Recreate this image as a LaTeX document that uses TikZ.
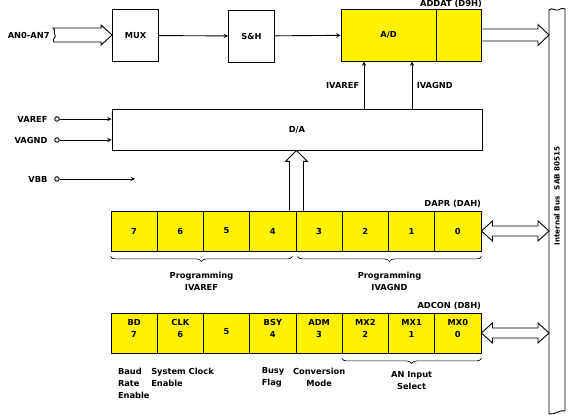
\documentclass[tikz,border=0pt]{standalone}
\usepackage{fontspec}
\setmainfont{DejaVu Sans}
\usetikzlibrary{positioning,calc,decorations.pathreplacing}

% hollow bus arrow pointing right, tip at #2
\newcommand{\busarrow}[2]{%
  \draw[hollow] let \p1=(#1), \p2=(#2) in
    (\x1,\y1+6pt) -- (\x2-11pt,\y1+6pt) -- (\x2-11pt,\y1+10.5pt) -- (\x2,\y1)
    -- (\x2-11pt,\y1-10.5pt) -- (\x2-11pt,\y1-6pt) -- (\x1,\y1-6pt);}
% hollow bus arrow with two heads
\newcommand{\dbusarrow}[2]{%
  \draw[hollow] let \p1=(#1), \p2=(#2) in
    (\x1,\y1) -- (\x1+11pt,\y1+10pt) -- (\x1+11pt,\y1+5pt) -- (\x2-11pt,\y1+5pt)
    -- (\x2-11pt,\y1+10pt) -- (\x2,\y1) -- (\x2-11pt,\y1-10pt) -- (\x2-11pt,\y1-5pt)
    -- (\x1+11pt,\y1-5pt) -- (\x1+11pt,\y1-10pt) -- cycle;}

\begin{document}
\begin{tikzpicture}[x=1pt,y=-1pt,line width=0.9pt,font=\fontsize{8.3}{12}\selectfont\bfseries,
  blk/.style={draw, minimum width=46pt, minimum height=52pt, inner sep=0pt},
  cell/.style={draw, fill=yellow, minimum width=46.25pt, minimum height=40pt, inner sep=0pt, align=center},
  pin/.style={draw, circle, inner sep=1.6pt},
  txt/.style={inner sep=0pt, align=left},
  brc/.style={decorate, decoration={brace, mirror, amplitude=5pt}, line width=0.6pt},
  hollow/.style={draw, line join=miter}]
\useasboundingbox (0,0) rectangle (576,419);

% internal bus
\coordinate (bus) at (549,210);
\draw (549,10) .. controls (552,7) and (555,11) .. (558,10) .. controls (561,9) and (563,7) .. (565,9)
  -- (565,411) .. controls (561,409) and (555,415) .. (549,414) -- cycle;
\node[rotate=90, font=\fontsize{7.2}{9}\selectfont\bfseries] at (557,196) {Internal Bus\hspace{6pt}SAB 80515};

% conversion path
\node[txt, anchor=east] (an) at (50,35) {AN0-AN7};
\node[blk] (mux) at (135.5,35.5) {MUX};
\node[blk] (sh) at (251.5,36) {S\&H};
\node[cell, minimum width=95pt, minimum height=52pt] (adc) at (388.5,35) {A/D};
\node[cell, minimum width=45pt, minimum height=52pt, anchor=west] (addat) at (adc.east) {};
\node[txt, anchor=south east] at ([yshift=1pt]addat.north east) {ADDAT (D9H)};

\draw[hollow] let \p1=(an.east), \p2=(mux.west) in
  (\x1+3pt,\y1+7pt) -- (\x2-11pt,\y1+7pt) -- (\x2-11pt,\y1+10pt) -- (\x2,\y1)
  -- (\x2-11pt,\y1-10pt) -- (\x2-11pt,\y1-7pt) -- (\x1+4pt,\y1-7pt)
  .. controls (\x1+1pt,\y1-4pt) and (\x1+7pt,\y1-2pt) .. (\x1+5pt,\y1)
  .. controls (\x1+3pt,\y1+2pt) and (\x1+6pt,\y1+5pt) .. cycle;
\draw[-stealth] (mux) -- (sh);
\draw[-stealth] (sh) -- (adc);
\busarrow{addat.east}{bus |- addat.east};

% D/A converter
\node[draw, minimum width=370pt, minimum height=41pt] (da) at (297,129.5) {D/A};
\coordinate (iref) at ([xshift=-24.5pt]adc.south);
\coordinate (ignd) at ([xshift=23.5pt]adc.south);
\draw[-stealth] (da.north -| iref) -- (iref) node[pos=0.5, left=1pt] {IVAREF};
\draw[-stealth] (da.north -| ignd) -- (ignd) node[pos=0.5, right=1pt] {IVAGND};

\node[pin] (varef) at (57,119) {};
\node[pin] (vagnd) at (57,140) {};
\node[pin] (vbb) at (57,179) {};
\node[left=3pt of varef] {VAREF};
\node[left=3pt of vagnd] {VAGND};
\node[left=3pt of vbb] {VBB};
\coordinate (vbbend) at (135,179);
\draw[-stealth] (varef) -- (varef -| da.west);
\draw[-stealth] (vagnd) -- (vagnd -| da.west);
\draw[-stealth] (vbb) -- (vbbend);

% DAPR register
\foreach \b [count=\i from 0] in {7,6,...,0}
  \node[cell] (dapr\b) at (134.125+46.25*\i,231) {\b};
\node[txt, anchor=south east] at ([yshift=3pt]dapr0.north east) {DAPR (DAH)};
\dbusarrow{dapr0.east}{bus |- dapr0.east};
\draw[hollow] let \p1=(dapr4.north east), \p2=(da.south -| dapr4.north east) in
  (\x1-7pt,\y1) -- (\x1-7pt,\y2-11pt) -- (\x1-11pt,\y2-11pt) -- (\x2,\y2)
  -- (\x1+11pt,\y2-11pt) -- (\x1+7pt,\y2-11pt) -- (\x1+7pt,\y1);
\draw[brc] ([yshift=-5pt]dapr7.south west) -- ([xshift=-4pt,yshift=-5pt]dapr4.south east)
  node[midway, below=12pt, align=center] {Programming\\IVAREF};
\draw[brc] ([xshift=2pt,yshift=-5pt]dapr3.south west) -- ([yshift=-5pt]dapr0.south east)
  node[midway, below=12pt, align=center] {Programming\\IVAGND};

% ADCON register
\foreach \b/\t [count=\i from 0] in {7/BD,6/CLK,5/,4/BSY,3/ADM,2/MX2,1/MX1,0/MX0}{
  \node[cell] (adcon\b) at (134.125+46.25*\i,333) {};
  \node[align=center, inner sep=0pt] at ([yshift=4.5pt]adcon\b.center) {\t\\\b};
}
\node[txt, anchor=south east] at ([yshift=3pt]adcon0.north east) {ADCON (D8H)};
\dbusarrow{adcon0.east}{bus |- adcon0.east};
\draw[brc] ([yshift=-5pt]adcon2.south west) -- ([yshift=-5pt]adcon0.south east)
  node[midway, below=9pt, align=center] {AN Input\\Select};
\node[txt, anchor=north west] at ([xshift=7pt,yshift=-14pt]adcon7.south west) {Baud\\Rate\\Enable};
\node[txt, anchor=north west] at ([xshift=-6pt,yshift=-14pt]adcon6.south west) {System Clock\\Enable};
\node[txt, anchor=north west] at ([xshift=12pt,yshift=-14pt]adcon4.south west) {Busy\\Flag};
\node[txt, align=center, anchor=north] at ([yshift=-14pt]adcon3.south) {Conversion\\Mode};
\end{tikzpicture}
\end{document}
